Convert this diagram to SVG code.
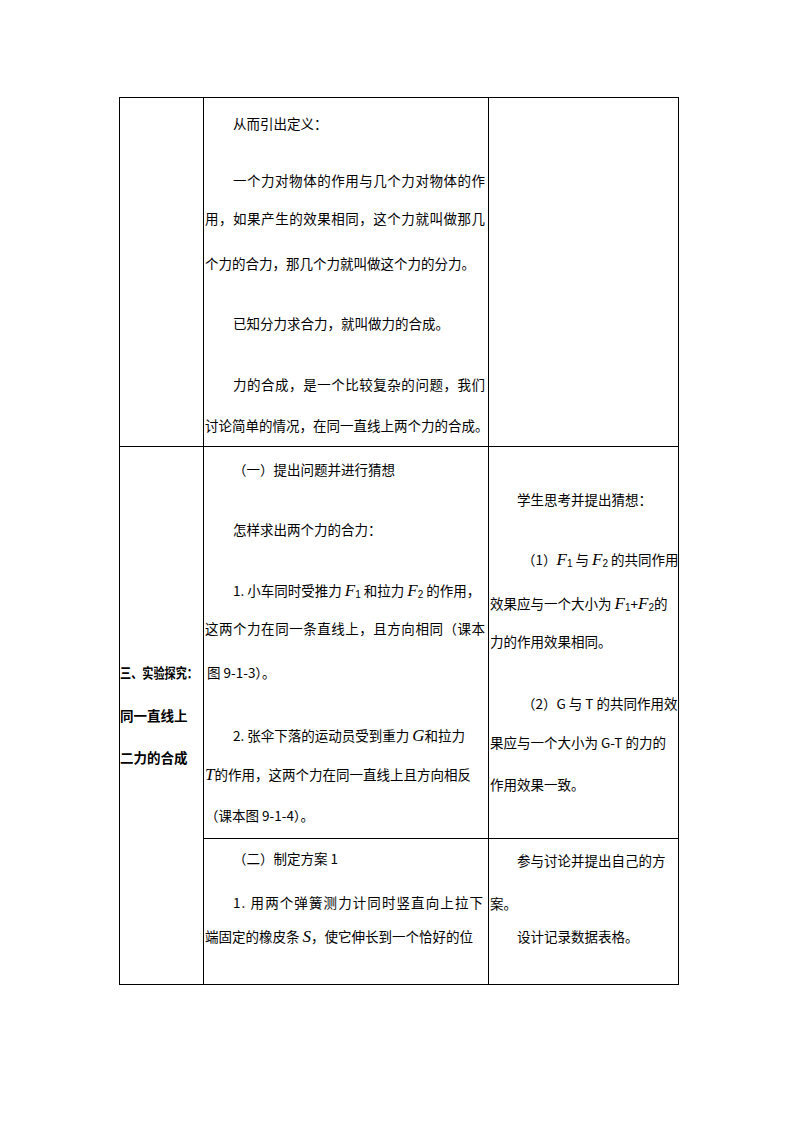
<svg xmlns="http://www.w3.org/2000/svg" width="794" height="1123" viewBox="0 0 794 1123">
<style>
.t{font-family:"Noto Sans CJK SC","Liberation Sans",sans-serif;font-size:13.5px;fill:#000}
.b{font-weight:bold}
.i{font-family:"Liberation Serif",serif;font-style:italic;font-size:17px}
.s{font-size:10px;font-style:normal;font-family:"Liberation Sans",sans-serif}
.l{stroke:#000;stroke-width:1;fill:none}
</style>
<rect width="794" height="1123" fill="#fff"/>
<g id="grid">
<rect class="l" x="119.5" y="97.5" width="559" height="887"/>
<line class="l" x1="203.5" y1="97" x2="203.5" y2="985"/>
<line class="l" x1="488.5" y1="97" x2="488.5" y2="985"/>
<line class="l" x1="119" y1="446.5" x2="679" y2="446.5"/>
<line class="l" x1="203" y1="838.5" x2="679" y2="838.5"/>
</g>
<g id="row1">
<text class="t" x="233" y="129">从而引出定义：</text>
<text class="t" x="233" y="186" textLength="252" lengthAdjust="spacing">一个力对物体的作用与几个力对物体的作</text>
<text class="t" x="205" y="224" textLength="280" lengthAdjust="spacing">用，如果产生的效果相同，这个力就叫做那几</text>
<text class="t" x="205" y="269">个力的合力，那几个力就叫做这个力的分力。</text>
<text class="t" x="233" y="329">已知分力求合力，就叫做力的合成。</text>
<text class="t" x="233" y="390" textLength="252" lengthAdjust="spacing">力的合成，是一个比较复杂的问题，我们</text>
<text class="t" x="205" y="431">讨论简单的情况，在同一直线上两个力的合成。</text>
</g>
<g id="row2-left">
<text class="t b" x="120" y="678" textLength="78" lengthAdjust="spacingAndGlyphs">三、实验探究：</text>
<text class="t b" x="120" y="721">同一直线上</text>
<text class="t b" x="120" y="763">二力的合成</text>
</g>
<g id="row2-mid">
<text class="t" x="233" y="475">（一）提出问题并进行猜想</text>
<text class="t" x="233" y="535">怎样求出两个力的合力：</text>
<text class="t" x="233" y="596">1. 小车同时受推力 <tspan class="i">F</tspan><tspan class="s" dy="2">1</tspan><tspan dy="-2"> 和拉力 </tspan><tspan class="i">F</tspan><tspan class="s" dy="2">2</tspan><tspan dy="-2">  的作用，</tspan></text>
<text class="t" x="205" y="634" textLength="280" lengthAdjust="spacing">这两个力在同一条直线上，且方向相同（课本</text>
<text class="t" x="207" y="678">图 9-1-3）。</text>
<text class="t" x="233" y="741">2. 张伞下落的运动员受到重力 <tspan class="i">G</tspan>和拉力</text>
<text class="t" x="205" y="780"><tspan class="i">T</tspan>的作用，这两个力在同一直线上且方向相反</text>
<text class="t" x="205" y="821">（课本图 9-1-4）。</text>
</g>
<g id="row2-right">
<text class="t" x="517" y="505">学生思考并提出猜想：</text>
<text class="t" x="522" y="565">（1）<tspan class="i">F</tspan><tspan class="s" dy="2">1</tspan><tspan dy="-2"> 与 </tspan><tspan class="i">F</tspan><tspan class="s" dy="2">2</tspan><tspan dy="-2"> 的共同作用</tspan></text>
<text class="t" x="490" y="609">效果应与一个大小为 <tspan class="i">F</tspan><tspan class="s" dy="2">1</tspan><tspan dy="-2">+</tspan><tspan class="i">F</tspan><tspan class="s" dy="2">2</tspan><tspan dy="-2">的</tspan></text>
<text class="t" x="490" y="647">力的作用效果相同。</text>
<text class="t" x="522" y="709">（2）G 与 T 的共同作用效</text>
<text class="t" x="490" y="748">果应与一个大小为 G-T 的力的</text>
<text class="t" x="490" y="790">作用效果一致。</text>
</g>
<g id="row3">
<text class="t" x="233" y="864">（二）制定方案 1</text>
<text class="t" x="233" y="908" textLength="250" lengthAdjust="spacing">1. 用两个弹簧测力计同时竖直向上拉下</text>
<text class="t" x="205" y="942">端固定的橡皮条 <tspan class="i">S</tspan>，使它伸长到一个恰好的位</text>
<text class="t" x="517" y="866">参与讨论并提出自己的方</text>
<text class="t" x="490" y="909">案。</text>
<text class="t" x="517" y="942">设计记录数据表格。</text>
</g>
</svg>
